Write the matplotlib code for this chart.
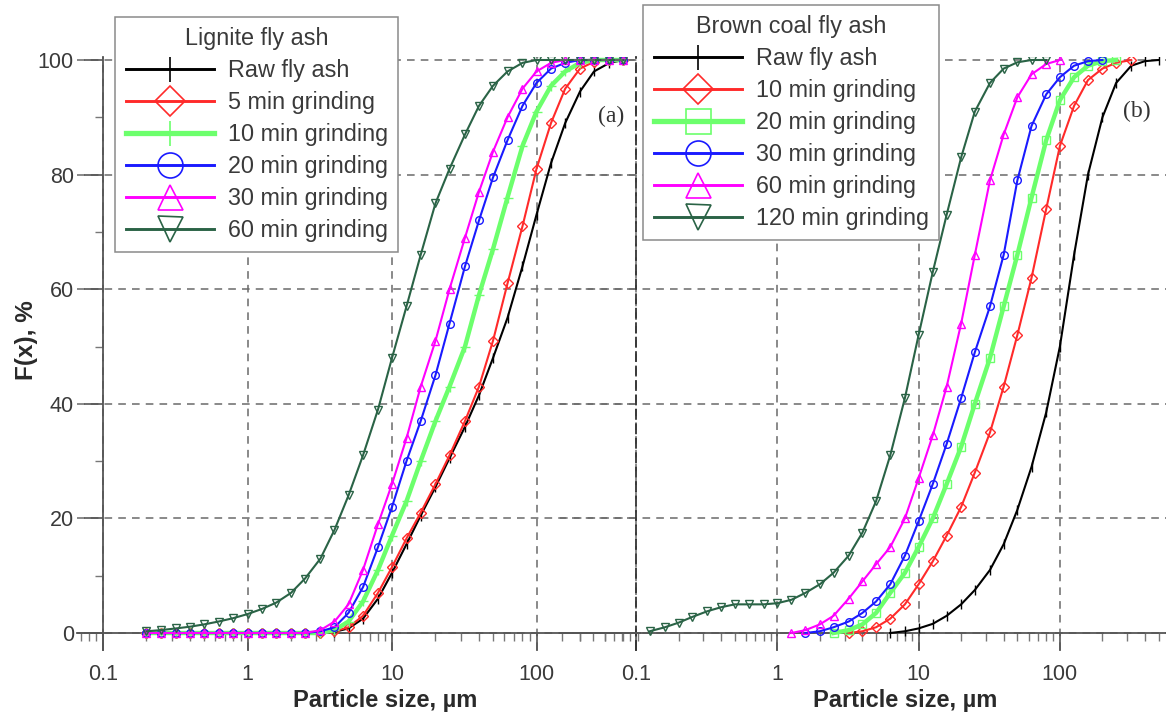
import numpy as np
import matplotlib
matplotlib.use("Agg")
import matplotlib.pyplot as plt
from matplotlib.lines import Line2D
from matplotlib.ticker import FixedLocator, LogLocator, NullFormatter, FixedFormatter

plt.rcParams['font.family'] = ['Liberation Sans', 'DejaVu Sans']

# ---------------- data ----------------
X_TICKS = [0.1, 1, 10, 100]
X_TICK_LABELS = ["0.1", "1", "10", "100"]
Y_TICKS = [0, 20, 40, 60, 80, 100]

# (a) Lignite fly ash
L_SIZE = [0.2, 0.25, 0.32, 0.4, 0.5, 0.63, 0.8, 1.0, 1.26, 1.58, 2.0, 2.5, 3.2, 4.0, 5.0,
          6.3, 8.0, 10, 12.6, 15.8, 20, 25, 32, 40, 50, 63, 80, 100, 126, 158, 200, 250, 320, 400]
L_RAW = [0, 0, 0, 0, 0, 0, 0, 0, 0, 0, 0, 0, 0, 0.2, 0.8, 2.5, 6, 10.5, 15.5, 20.5, 25.5,
         30.5, 36, 41.5, 48, 55, 64, 73, 82, 89, 94.5, 98, 99.5, 100]
L_5MIN = [0, 0, 0, 0, 0, 0, 0, 0, 0, 0, 0, 0, 0, 0.3, 1, 3, 7, 11.5, 16.5, 21, 26, 31, 37,
          43, 51, 61, 71, 81, 89, 95, 98.5, 99.7, 100, 100]
L_10MIN = [0, 0, 0, 0, 0, 0, 0, 0, 0, 0, 0, 0, 0, 0.5, 2, 5.5, 11, 17, 23, 30, 37, 43, 50,
           59, 67, 76, 85, 91, 95.5, 98, 99.5, 100, 100, 100]
L_20MIN = [0, 0, 0, 0, 0, 0, 0, 0, 0, 0, 0, 0, 0.3, 1, 3.5, 8, 15, 22, 30, 37, 45, 54, 64,
           72, 79.5, 86, 92, 96, 98.5, 99.5, 100, 100, 100, 100]
L_30MIN = [0, 0, 0, 0, 0, 0, 0, 0, 0, 0, 0, 0, 0.5, 2, 5, 11, 19, 26, 34, 43, 51, 60, 69,
           77, 84, 90, 95, 98, 99.5, 100, 100, 100, 100, 100]
L_60MIN = [0.3, 0.5, 0.8, 1.1, 1.5, 2, 2.6, 3.3, 4.2, 5.3, 7, 9.5, 13, 18, 24, 31, 39, 48,
           57, 66, 75, 81, 87, 92, 95.5, 98, 99.5, 100, 100, 100, 100, 100, 100, 100]

# (b) Brown coal fly ash
R_SIZE = [0.125, 0.16, 0.2, 0.25, 0.32, 0.4, 0.5, 0.63, 0.8, 1.0, 1.26, 1.58, 2.0, 2.5, 3.2,
          4.0, 5.0, 6.3, 8.0, 10, 12.6, 15.8, 20, 25, 32, 40, 50, 63, 80, 100, 126, 158, 200,
          250, 320, 400, 500]
N = None
R_RAW = [N] * 17 + [0, 0.3, 0.8, 1.6, 3, 5, 7.5, 11, 15.5, 21.5, 29, 38.5, 50, 66, 80, 90,
                    96, 99, 99.8, 100]
R_10MIN = [N] * 14 + [0, 0.3, 1, 2.5, 5, 8.5, 12.5, 17, 22, 28, 35, 43, 52, 62, 74, 85, 92,
                      96.5, 98.5, 99.5, 100] + [N] * 2
R_20MIN = [N] * 13 + [0, 0.5, 1.5, 3.5, 7, 10.5, 15, 20, 26, 32.5, 40, 48, 57, 66, 76, 86,
                      93, 97, 99, 99.8, 100] + [N] * 3
R_30MIN = [N] * 11 + [0, 0.3, 1, 2, 3.5, 5.5, 8.5, 13.5, 19.5, 26, 33, 41, 49, 57, 66, 79,
                      88.5, 94, 97, 99, 99.8, 100] + [N] * 4
R_60MIN = [N] * 10 + [0, 0.5, 1.5, 3, 6, 9, 12, 15, 20, 27, 34.5, 43, 54, 66, 79, 87, 93.5,
                      97.5, 99.3, 100] + [N] * 7
R_120MIN = [0.3, 1, 1.8, 2.8, 3.8, 4.5, 5, 5, 5, 5.2, 5.8, 7, 8.5, 10.5, 13.5, 17.5, 23, 31,
            41, 52, 63, 73, 83, 91, 96, 98.5, 99.6, 100, 100] + [N] * 8

LEFT_LABELS = ["Raw fly ash", "5 min grinding", "10 min grinding", "20 min grinding",
               "30 min grinding", "60 min grinding"]
RIGHT_LABELS = ["Raw fly ash", "10 min grinding", "20 min grinding", "30 min grinding",
                "60 min grinding", "120 min grinding"]

# ---------------- styles ----------------
C_BLACK, C_RED, C_GREEN, C_BLUE, C_MAG, C_DKG = "#000000", "#ff2a2a", "#6cff6c", "#1a1aff", "#ff00ff", "#2a6346"
LEFT_STYLE = [(C_BLACK, "|", 1.5), (C_RED, "D", 1.5), (C_GREEN, "+", 3.2),
              (C_BLUE, "o", 1.5), (C_MAG, "^", 1.5), (C_DKG, "v", 1.5)]
RIGHT_STYLE = [(C_BLACK, "|", 1.5), (C_RED, "D", 1.5), (C_GREEN, "s", 3.2),
               (C_BLUE, "o", 1.5), (C_MAG, "^", 1.5), (C_DKG, "v", 1.5)]
TXT = "#3a3a3a"
GRID = "#6a6a6a"

W, H = 1166, 715
fig = plt.figure(figsize=(W / 100, H / 100), dpi=100)

# pixel layout
Y0_PX, Y100_PX = 633, 60
ppu = (Y0_PX - Y100_PX) / 100.0
ybot, ytop = -3.0, 100.6
ax_bot_px = Y0_PX - ybot * ppu
ax_top_px = Y0_PX - ytop * ppu


def make_axes(px_left, px_right, x01_px, decade_px):
    a = fig.add_axes([px_left / W, 1 - ax_bot_px / H, (px_right - px_left) / W,
                      (ax_bot_px - ax_top_px) / H])
    lo = 10 ** (-1 - (x01_px - px_left) / decade_px)
    hi = 10 ** (-1 + (px_right - x01_px) / decade_px)
    a.set_xscale("log")
    a.set_xlim(lo, hi)
    a.set_ylim(ybot, ytop)
    a.patch.set_alpha(0)
    for s in ["top", "right"]:
        a.spines[s].set_visible(False)
    a.spines["bottom"].set_position(("data", 0))
    a.spines["left"].set_position(("data", 0.1))
    for s in ["bottom", "left"]:
        a.spines[s].set_color("#555555")
        a.spines[s].set_linewidth(1.3)
    a.xaxis.set_major_locator(FixedLocator(X_TICKS))
    a.xaxis.set_major_formatter(FixedFormatter(X_TICK_LABELS))
    a.xaxis.set_minor_locator(LogLocator(base=10, subs=np.arange(2, 10), numticks=20))
    a.xaxis.set_minor_formatter(NullFormatter())
    a.tick_params(axis="x", which="major", direction="out", length=13, width=1.2,
                  color="#555555", labelsize=15.5, labelcolor=TXT, pad=9)
    a.tick_params(axis="x", which="minor", direction="out", length=6, width=1.0,
                  color="#777777")
    a.grid(True, which="major", axis="both", linestyle=(0, (5, 4)), color=GRID, linewidth=1.1)
    a.set_axisbelow(True)
    return a


axL = make_axes(77, 640, 103, 144.5)
axR = make_axes(560, 1166, 636, 141.3)

axL.set_yticks(Y_TICKS)
axL.yaxis.set_minor_locator(FixedLocator([10, 30, 50, 70, 90]))
axL.tick_params(axis="y", which="major", direction="out", length=14, width=1.2,
                color="#555555", labelsize=15.5, labelcolor=TXT, pad=7)
axL.tick_params(axis="y", which="minor", direction="out", length=6, width=1.0, color="#777777")

axR.set_yticks(Y_TICKS)
axR.tick_params(axis="y", which="both", left=False, labelleft=False)
axR.spines["left"].set_linestyle((0, (5, 3)))
axR.spines["left"].set_color("#333333")


def to_arr(v):
    return np.array([np.nan if q is None else q for q in v], dtype=float)


def draw(ax, xs, series, styles, labels, title, anchor_px):
    handles = []
    for ys, (c, m, lw), lab in zip(series, styles, labels):
        ms = 5.5 if m not in ("|", "+") else 7
        ax.plot(xs, to_arr(ys), color=c, lw=lw, marker=m, ms=ms, mfc="none",
                mec=c, mew=1.0, zorder=3)
        handles.append(Line2D([], [], color=c, lw=lw + 0.6, marker=m, ms=18 if m != "D" else 15,
                              mfc="none", mec=c, mew=1.2))
    leg = ax.legend(handles, labels, title=title, loc="upper left",
                    bbox_to_anchor=(anchor_px[0] / W, 1 - anchor_px[1] / H),
                    bbox_transform=fig.transFigure, borderaxespad=0, fontsize=16.8,
                    title_fontsize=16.8, handlelength=3.78, handletextpad=0.6,
                    labelspacing=0.38, borderpad=0.45, fancybox=False, framealpha=1,
                    edgecolor="#8a8a8a", facecolor="white")
    leg.get_frame().set_linewidth(1.1)
    for t in leg.get_texts():
        t.set_color(TXT)
    leg.get_title().set_color(TXT)
    leg.set_zorder(10)
    return leg


draw(axL, L_SIZE, [L_RAW, L_5MIN, L_10MIN, L_20MIN, L_30MIN, L_60MIN], LEFT_STYLE,
     LEFT_LABELS, "Lignite fly ash", (115, 17))
draw(axR, R_SIZE, [R_RAW, R_10MIN, R_20MIN, R_30MIN, R_60MIN, R_120MIN], RIGHT_STYLE,
     RIGHT_LABELS, "Brown coal fly ash", (643, 5))

# panel tags
fig.text(611 / W, 1 - 116 / H, "(a)", family=["Liberation Serif", "DejaVu Serif"],
         fontsize=17, color="#333333", ha="center", va="center")
fig.text(1123 / W, 1 - 111 / H, "(b)", family=["Liberation Serif", "DejaVu Serif"],
         fontsize=17, color="#333333", ha="left", va="center")

# axis labels
fig.text(385 / W, 1 - 701 / H, "Particle size, \u00b5m", fontsize=17, color="#2a2a2a",
         ha="center", va="center", fontweight="bold")
fig.text(905 / W, 1 - 701 / H, "Particle size, \u00b5m", fontsize=17, color="#2a2a2a",
         ha="center", va="center", fontweight="bold")
fig.text(26 / W, 1 - 340 / H, "F(x), %", fontsize=17.5, color="#2a2a2a", rotation=90,
         ha="center", va="center", fontweight="bold")

fig.savefig("out.png", dpi=100, facecolor="white")
